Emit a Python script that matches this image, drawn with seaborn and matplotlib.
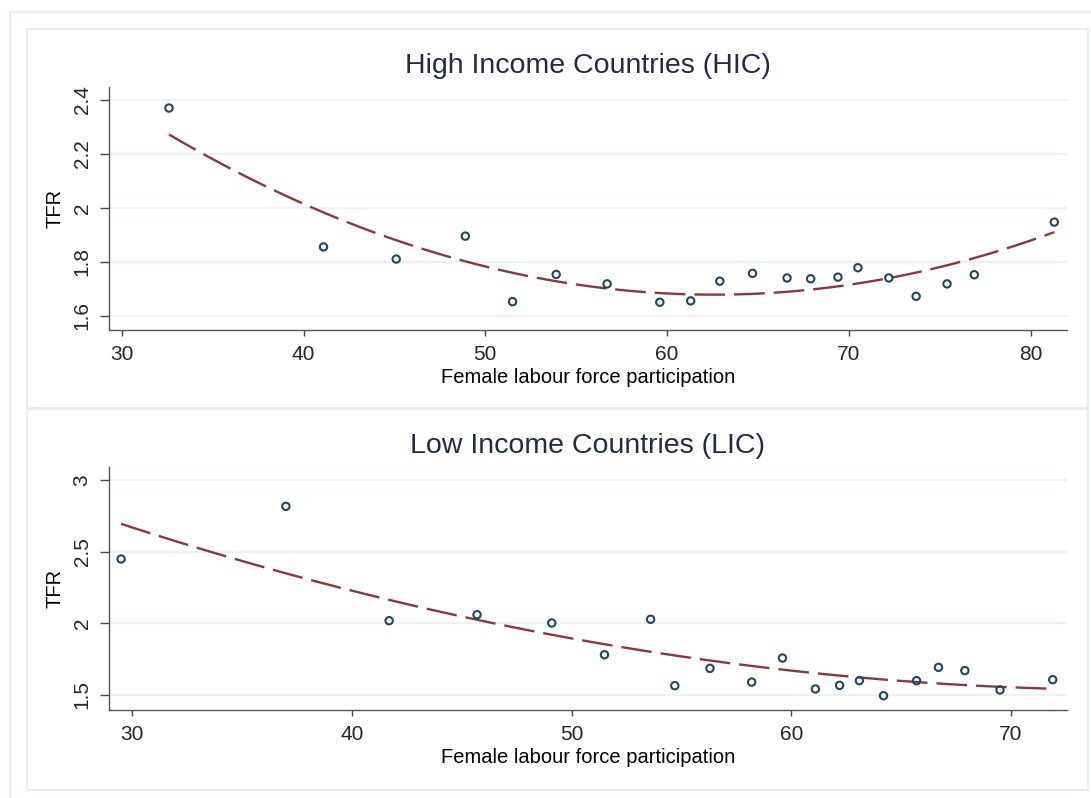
import matplotlib
matplotlib.use("Agg")
import matplotlib.pyplot as plt
import seaborn as sns
import pandas as pd
from matplotlib.patches import Rectangle

# Data
hic_flfp = [32.6, 41.1, 45.1, 48.9, 51.5, 53.9, 56.7, 59.6, 61.3, 62.9,
            64.7, 66.6, 67.9, 69.4, 70.5, 72.2, 73.7, 75.4, 76.9, 81.3]
hic_tfr = [2.37, 1.855, 1.81, 1.895, 1.652, 1.753, 1.718, 1.65, 1.655, 1.728,
           1.757, 1.74, 1.737, 1.743, 1.778, 1.74, 1.672, 1.718, 1.752, 1.947]

lic_flfp = [29.5, 37.0, 41.7, 45.7, 49.1, 51.5, 53.6, 54.7, 56.3, 58.2,
            59.6, 61.1, 62.2, 63.1, 64.2, 65.7, 66.7, 67.9, 69.5, 71.9]
lic_tfr = [2.45, 2.818, 2.019, 2.061, 2.003, 1.781, 2.029, 1.565, 1.686, 1.59,
           1.758, 1.542, 1.567, 1.6, 1.495, 1.6, 1.693, 1.67, 1.535, 1.607]

hic_yticks = [1.6, 1.8, 2.0, 2.2, 2.4]
hic_ylabels = ["1.6", "1.8", "2", "2.2", "2.4"]
hic_xticks = [30, 40, 50, 60, 70, 80]
lic_yticks = [1.5, 2.0, 2.5, 3.0]
lic_ylabels = ["1.5", "2", "2.5", "3"]
lic_xticks = [30, 40, 50, 60, 70]

navy = "#1a476f"
maroon = "#90353b"
grid_col = "#eaf2f3"
frame_col = "#e6eef0"

sns.set_style("white")
plt.rcParams["font.family"] = ["Liberation Sans", "DejaVu Sans"]

fig = plt.figure(figsize=(10.91, 7.98), dpi=100)
W, H = 1091, 798


def px_rect(x0, y0, x1, y1):
    return Rectangle((x0 / W, 1 - y1 / H), (x1 - x0) / W, (y1 - y0) / H,
                     transform=fig.transFigure, fill=False,
                     edgecolor=frame_col, linewidth=1.5, zorder=0)


fig.patches.append(px_rect(10, 12, 1095, 802))
fig.patches.append(px_rect(27, 29, 1088, 408))
fig.patches.append(px_rect(27, 409, 1088, 790))

ax1 = fig.add_axes([109 / W, 1 - 330 / H, (1067 - 109) / W, (330 - 87) / H])
ax2 = fig.add_axes([109 / W, 1 - 710 / H, (1067 - 109) / W, (710 - 466.7) / H])

panels = [
    (ax1, hic_flfp, hic_tfr, "High Income Countries (HIC)", hic_xticks,
     hic_yticks, hic_ylabels, (29.3, 82.0), (1.547, 2.448)),
    (ax2, lic_flfp, lic_tfr, "Low Income Countries (LIC)", lic_xticks,
     lic_yticks, lic_ylabels, (28.95, 72.55), (1.395, 3.095)),
]

for ax, xs, ys, title, xt, yt, yl, xlim, ylim in panels:
    df = pd.DataFrame({"flfp": xs, "tfr": ys})
    sns.regplot(data=df, x="flfp", y="tfr", ax=ax, order=2, ci=None,
                marker="o",
                scatter_kws=dict(s=28, facecolors="none", edgecolors=navy,
                                 linewidths=1.5, alpha=1, zorder=3),
                line_kws=dict(color=maroon, linewidth=1.7,
                              linestyle=(0, (13, 3.8)), zorder=2))
    ax.set_xlim(*xlim)
    ax.set_ylim(*ylim)
    ax.set_xticks(xt)
    ax.set_yticks(yt)
    ax.set_yticklabels(yl)
    for y in yt:
        ax.axhline(y, color=grid_col, linewidth=1.6, zorder=0)
    ax.set_title(title, fontsize=20.5, color="#1e2b4f", pad=10)
    ax.set_xlabel("Female labour force participation", fontsize=14.5,
                  labelpad=3, color="black")
    ax.set_ylabel("TFR", fontsize=14.5, labelpad=6, color="black")
    ax.tick_params(axis="x", labelsize=15, length=4.5, width=1,
                   color="#444444", pad=6, bottom=True)
    ax.tick_params(axis="y", labelsize=15, length=6.5, width=1,
                   color="#444444", pad=6, left=True, labelrotation=90)
    for lab in ax.get_yticklabels():
        lab.set_va("center")
    sns.despine(ax=ax)
    for side in ["left", "bottom"]:
        ax.spines[side].set_color("#555555")
        ax.spines[side].set_linewidth(1.0)
    ax.set_facecolor("white")

fig.savefig("out.png", dpi=100, facecolor="white")
